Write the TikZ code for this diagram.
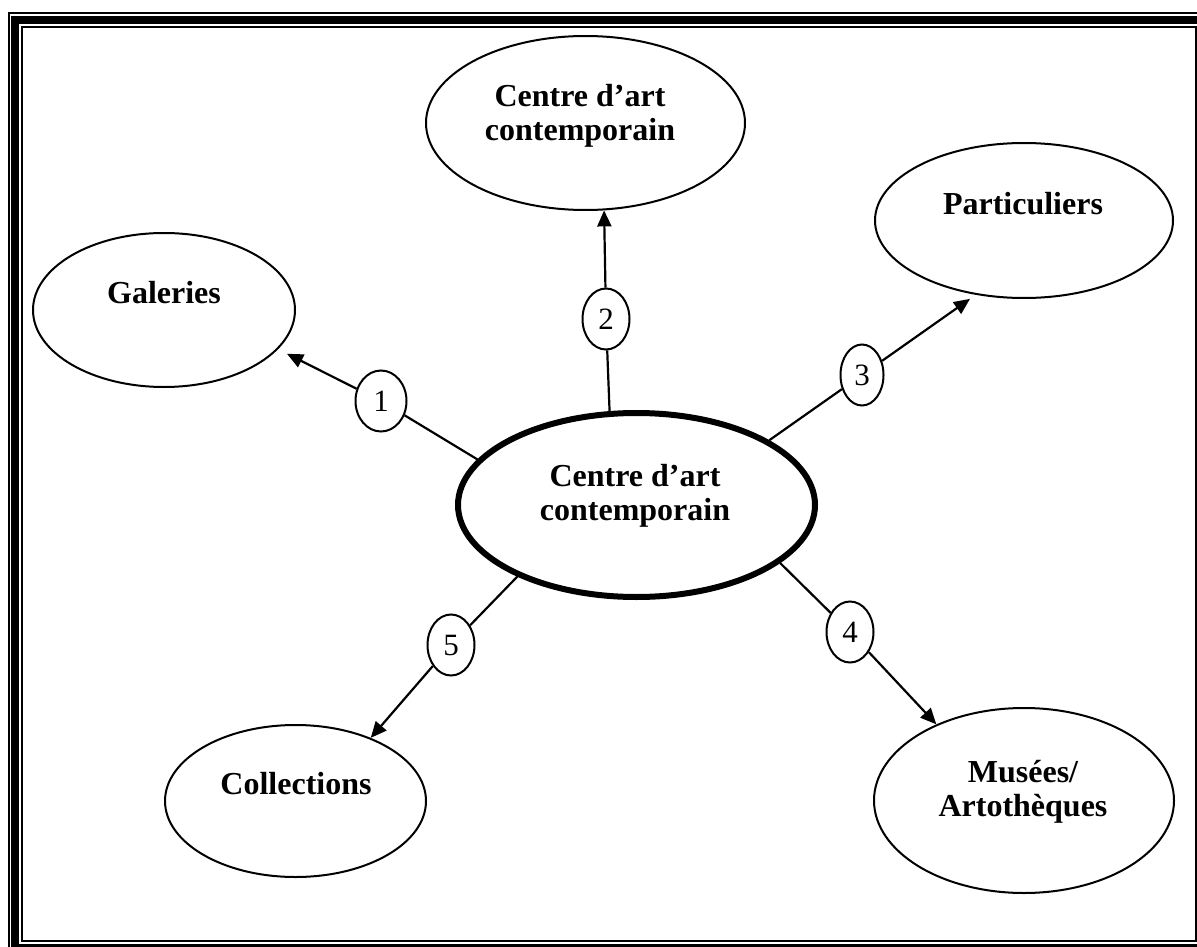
\documentclass[tikz,border=0pt]{standalone}
\usepackage{fontspec}
\setmainfont{Liberation Serif}
\usetikzlibrary{arrows.meta,shapes.geometric}

\begin{document}
\begin{tikzpicture}[
x=1pt, y=-1pt,
hub/.style={ellipse, draw=black, line width=6pt, minimum width=357pt, minimum height=184pt, inner sep=0pt},
target/.style={ellipse, draw=black, line width=2pt, inner sep=0pt},
num/.style={ellipse, draw=black, line width=2pt, minimum width=47pt, minimum height=61pt, inner sep=0pt, font=\fontsize{31}{34}\selectfont},
lbl/.style={align=center, inner sep=0pt, font=\fontsize{32}{34}\selectfont\bfseries},
link/.style={line width=2.2pt},
arr/.style={-{Triangle[length=16pt,width=14pt]}, line width=2.2pt}]

\useasboundingbox (0,0) rectangle (1197,947);

% frame
\draw[line width=2pt] (9,13) rectangle (1209,955);
\draw[line width=8pt] (15,20) rectangle (1203,948);
\draw[line width=2pt] (22,27) rectangle (1196,941);

\node[hub] (cac) at (636.5,505) {};
\node[target, minimum width=319pt, minimum height=174pt] (top) at (585.5,123) {};
\node[target, minimum width=262pt, minimum height=154pt] (gal) at (164,310) {};
\node[target, minimum width=298pt, minimum height=155pt] (part) at (1024,220.5) {};
\node[target, minimum width=300pt, minimum height=185pt] (mus) at (1024,800.5) {};
\node[target, minimum width=261pt, minimum height=152pt] (coll) at (295.5,801) {};

\node[lbl] (cac-t) at (635,496) {Centre d’art\\contemporain};
\node[lbl] (top-t) at (580,116) {Centre d’art\\contemporain};
\node[lbl] (gal-t) at (164,293) {Galeries};
\node[lbl] (part-t) at (1023,204) {Particuliers};
\node[lbl] (mus-t) at (1023,792) {Musées/\\Artothèques};
\node[lbl] (coll-t) at (296,784) {Collections};

\node[num, minimum width=51pt] (n1) at (381,401) {1};
\node[num] (n2) at (606,319) {2};
\node[num, minimum width=43pt] (n3) at (862,375) {3};
\node[num] (n4) at (850,632) {4};
\node[num] (n5) at (451,645) {5};

\draw[link] (cac.164) -- (n1);
\draw[arr, shorten >=10pt] (n1) -- (gal.-19);

\draw[link] (cac.106) -- (n2);
\draw[arr] (n2) -- (top.-78);

\draw[link] (cac.26) -- (n3);
\draw[arr, shorten >=7pt] (n3) -- (part.237);

\draw[link] (cac.-22) -- (n4);
\draw[arr] (n4) -- (mus.139);

\draw[link] (cac.211) -- (n5);
\draw[arr] (n5) -- (coll.40);
\end{tikzpicture}
\end{document}
